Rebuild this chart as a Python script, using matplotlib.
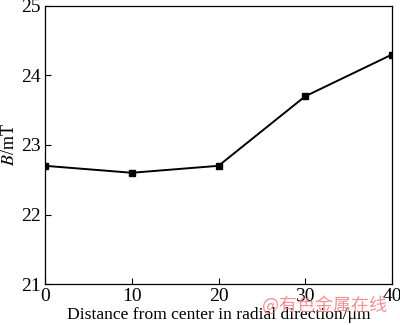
import matplotlib
matplotlib.use("Agg")
import matplotlib.pyplot as plt

# data
distance = [0, 10, 20, 30, 40]
b_field = [22.7, 22.6, 22.7, 23.7, 24.3]
x_ticks = [0, 10, 20, 30, 40]
y_ticks = [21, 22, 23, 24, 25]

plt.rcParams['font.family'] = ['Liberation Serif', 'DejaVu Serif']
plt.rcParams['mathtext.fontset'] = 'stix'

fig = plt.figure(figsize=(4, 3.25), dpi=100)
ax = fig.add_axes([0.1125, 0.126, 0.8675, 0.856])

ax.plot(distance, b_field, color='black', linewidth=1.4,
        marker='s', markersize=4.5)

ax.set_xlim(0, 40)
ax.set_ylim(21, 25)
ax.set_xticks(x_ticks)
ax.set_yticks(y_ticks)
ax.tick_params(direction='in', length=4, width=0.8, labelsize=14, pad=3)
for s in ax.spines.values():
    s.set_linewidth(0.9)

ax.set_xlabel('Distance from center in radial direction/μm', fontsize=12.6, labelpad=1)
ax.set_ylabel('$B$/mT', fontsize=13, labelpad=2)

# watermark
fig.text(0.655, 0.045, '@有色金属在线', color='#f08080', fontsize=13, alpha=0.85,
         family=['Noto Sans CJK SC', 'DejaVu Sans'])

fig.savefig('out.png', dpi=100)
